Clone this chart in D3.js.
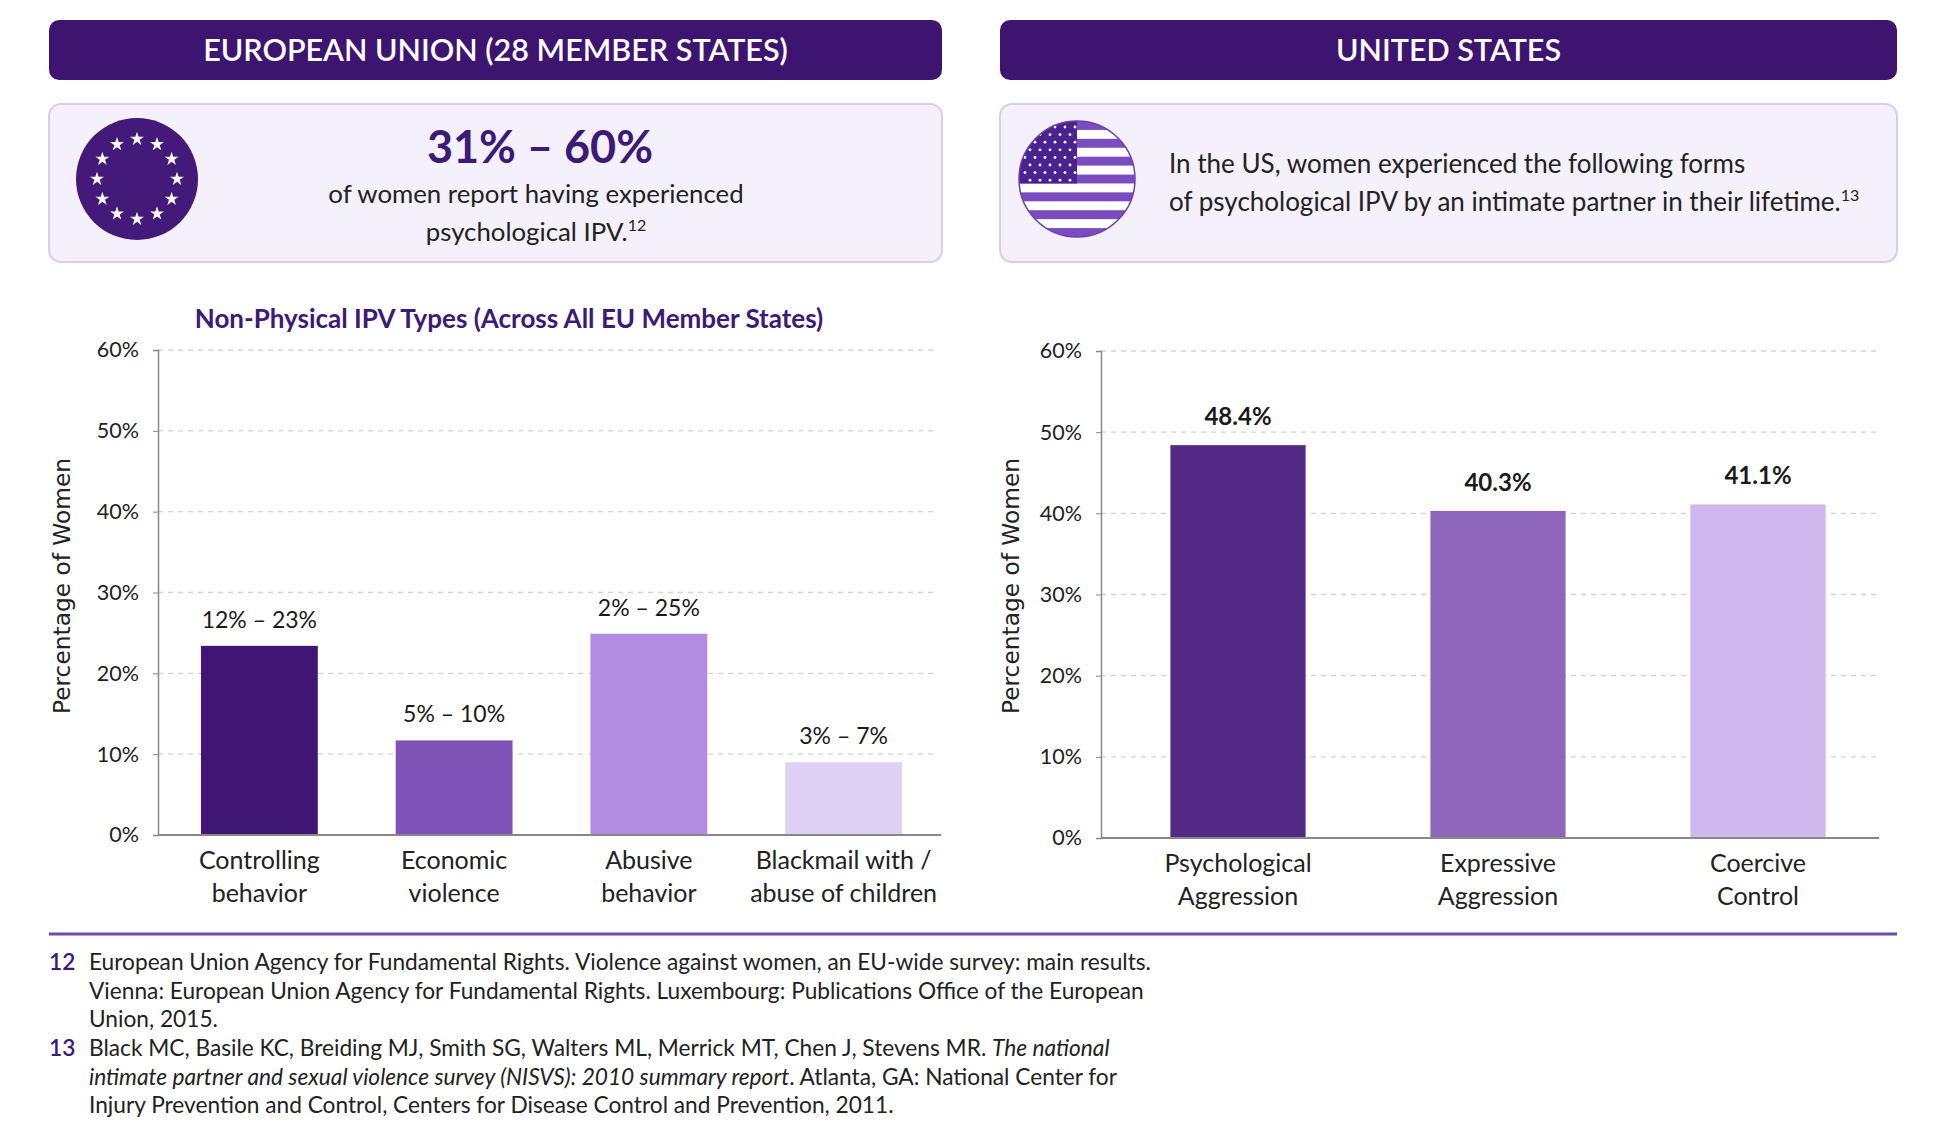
<!DOCTYPE html>
<html>
<head>
<meta charset="utf-8">
<script src="https://cdn.jsdelivr.net/npm/d3@7"></script>
<style>
  body { margin: 0; background: #fff; }
  svg { display: block; font-family: Lato, "Open Sans", sans-serif; }
  .tick text { font-family: Lato, sans-serif; }
</style>
</head>
<body>
<svg id="chart" width="1936" height="1148"></svg>
<script>
// chart data
const yTicks = [0, 10, 20, 30, 40, 50, 60];

const euCategories = [["Controlling", "behavior"], ["Economic", "violence"], ["Abusive", "behavior"], ["Blackmail with /", "abuse of children"]];
const euValues = [23.4, 11.7, 24.9, 9.0];
const euLabels = ["12% – 23%", "5% – 10%", "2% – 25%", "3% – 7%"];

const usCategories = [["Psychological", "Aggression"], ["Expressive", "Aggression"], ["Coercive", "Control"]];
const usValues = [48.4, 40.3, 41.1];
const usLabels = ["48.4%", "40.3%", "41.1%"];

const euColors = ["#3f1674", "#7f52b7", "#b28ce0", "#dfd1f5"];
const usColors = ["#532a85", "#8e67bd", "#cfb8ee"];
const purple = "#3d1470";

const svg = d3.select("#chart");

// --- headers
function header(x, w, label) {
  svg.append("rect").attr("x", x).attr("y", 20).attr("width", w).attr("height", 60)
    .attr("rx", 10).attr("fill", purple);
  svg.append("text").attr("x", x + w / 2).attr("y", 61).attr("text-anchor", "middle")
    .attr("fill", "#fff").attr("font-size", 30.5).attr("font-weight", 600).text(label);
}
header(49, 893, "EUROPEAN UNION (28 MEMBER STATES)");
header(1000, 897, "UNITED STATES");

// --- info boxes
function infoBox(x, w) {
  svg.append("rect").attr("x", x).attr("y", 104).attr("width", w).attr("height", 158)
    .attr("rx", 12).attr("fill", "#f4f0fc").attr("stroke", "#d9ccf3").attr("stroke-width", 2);
}
infoBox(49, 893);
infoBox(1000, 897);

// EU flag
svg.append("circle").attr("cx", 137).attr("cy", 179).attr("r", 61).attr("fill", "#43197a");
const star = d3.symbol().type(d3.symbolStar).size(60);
d3.range(12).forEach(i => {
  const a = i / 12 * 2 * Math.PI;
  svg.append("path").attr("d", star)
    .attr("transform", `translate(${137 + 40 * Math.sin(a)},${179 - 40 * Math.cos(a)})`)
    .attr("fill", "#fff");
});

svg.append("text").attr("x", 540).attr("y", 163).attr("text-anchor", "middle")
  .attr("fill", "#3b1a78").attr("font-size", 45).attr("font-weight", 700).text("31% – 60%");
svg.append("text").attr("x", 536).attr("y", 203).attr("text-anchor", "middle")
  .attr("fill", "#222").attr("font-size", 25.8).text("of women report having experienced");
const ipv = svg.append("text").attr("x", 536).attr("y", 241).attr("text-anchor", "middle")
  .attr("fill", "#222").attr("font-size", 25.8);
ipv.append("tspan").text("psychological IPV.");
ipv.append("tspan").attr("dy", -10).attr("font-size", 16).text("12");

// US flag
const fx = 1077, fy = 179, fr = 58;
const clip = svg.append("clipPath").attr("id", "flagclip");
clip.append("circle").attr("cx", fx).attr("cy", fy).attr("r", fr);
const flag = svg.append("g").attr("clip-path", "url(#flagclip)");
flag.append("rect").attr("x", fx - fr).attr("y", fy - fr).attr("width", fr * 2).attr("height", fr * 2).attr("fill", "#fff");
const sh = fr * 2 / 13;
d3.range(13).filter(i => i % 2 === 0).forEach(i => {
  flag.append("rect").attr("x", fx - fr).attr("y", fy - fr + i * sh).attr("width", fr * 2).attr("height", sh)
    .attr("fill", "#7b4cc0");
});
flag.append("rect").attr("x", fx - fr).attr("y", fy - fr).attr("width", fr).attr("height", sh * 7).attr("fill", "#4a2390");
for (let r = 0; r < 9; r++) {
  const n = r % 2 === 0 ? 6 : 5;
  for (let c = 0; c < n; c++) {
    flag.append("circle")
      .attr("cx", fx - fr + 6 + c * 10 + (r % 2 ? 5 : 0))
      .attr("cy", fy - fr + 6 + r * 7.6)
      .attr("r", 1.4).attr("fill", "#fff");
  }
}
svg.append("circle").attr("cx", fx).attr("cy", fy).attr("r", fr).attr("fill", "none")
  .attr("stroke", "#6a3fb0").attr("stroke-width", 1.5);

const usText = svg.append("text").attr("fill", "#222").attr("font-size", 26);
usText.append("tspan").attr("x", 1169).attr("y", 173).text("In the US, women experienced the following forms");
usText.append("tspan").attr("x", 1169).attr("y", 211).text("of psychological IPV by an intimate partner in their lifetime.");
usText.append("tspan").attr("dy", -10).attr("font-size", 16).text("13");

// --- bar chart helper
function barChart(opt) {
  const x = d3.scaleBand().domain(opt.categories.map((d, i) => i))
    .range(opt.band).paddingInner(opt.pi).paddingOuter(opt.po);
  const y = d3.scaleLinear().domain([0, 60]).range([opt.y0, opt.y1]);
  const g = svg.append("g");

  // grid
  g.selectAll(".grid").data(yTicks.filter(t => t > 0)).enter().append("line")
    .attr("x1", opt.x0).attr("x2", opt.gridEnd)
    .attr("y1", d => y(d)).attr("y2", d => y(d))
    .attr("stroke", "#d4d4d4").attr("stroke-width", 1.3).attr("stroke-dasharray", "5,5");

  // y axis
  const ya = g.append("g").attr("transform", `translate(${opt.x0},0)`)
    .call(d3.axisLeft(y).tickValues(yTicks).tickFormat(d => d + "%").tickSize(5).tickPadding(14));
  ya.select(".domain").attr("stroke", "#888").attr("stroke-width", 1.5);
  ya.selectAll(".tick line").attr("stroke", "#888");
  ya.selectAll(".tick text").attr("font-size", 21.5).attr("fill", "#222");

  // bars
  g.selectAll(".bar").data(opt.values).enter().append("rect")
    .attr("x", (d, i) => x(i)).attr("width", x.bandwidth())
    .attr("y", d => y(d)).attr("height", d => y(0) - y(d))
    .attr("fill", (d, i) => opt.colors[i]);

  // x axis line
  g.append("line").attr("x1", opt.x0).attr("x2", opt.x1)
    .attr("y1", y(0)).attr("y2", y(0)).attr("stroke", "#888").attr("stroke-width", 2);

  // value labels
  g.selectAll(".val").data(opt.values).enter().append("text")
    .attr("x", (d, i) => x(i) + x.bandwidth() / 2).attr("y", d => y(d) - opt.labelGap)
    .attr("text-anchor", "middle").attr("font-size", opt.labelSize)
    .attr("font-weight", opt.labelWeight).attr("fill", "#1a1a1a")
    .text((d, i) => opt.labels[i]);

  // category labels
  opt.categories.forEach((lines, i) => {
    const t = g.append("text").attr("text-anchor", "middle").attr("font-size", 25).attr("fill", "#222");
    lines.forEach((l, j) => {
      t.append("tspan").attr("x", x(i) + x.bandwidth() / 2).attr("y", opt.catY + j * 33).text(l);
    });
  });

  // y title
  g.append("text").attr("transform", `translate(${opt.titleX},586) rotate(-90)`)
    .attr("text-anchor", "middle").attr("font-family", "'DejaVu Sans', sans-serif")
    .attr("font-size", 23.3).attr("fill", "#222").text("Percentage of Women");
}

svg.append("text").attr("x", 509).attr("y", 328).attr("text-anchor", "middle")
  .attr("fill", "#3b1a78").attr("font-size", 26).attr("font-weight", 700)
  .text("Non-Physical IPV Types (Across All EU Member States)");

barChart({
  categories: euCategories, values: euValues, labels: euLabels, colors: euColors,
  x0: 158, x1: 941, band: [162, 941], gridEnd: 935, pi: 0.4, po: 0.2, y0: 835, y1: 350,
  labelGap: 18, labelSize: 23, labelWeight: 400, catY: 869, titleX: 70
});

barChart({
  categories: usCategories, values: usValues, labels: usLabels, colors: usColors,
  x0: 1101, x1: 1879, band: [1108, 1888], gridEnd: 1877, pi: 0.48, po: 0.24, y0: 838, y1: 351,
  labelGap: 20, labelSize: 24, labelWeight: 700, catY: 872, titleX: 1019
});

// --- separator & footnotes
svg.append("line").attr("x1", 49).attr("x2", 1897).attr("y1", 934).attr("y2", 934)
  .attr("stroke", "#6a4bb0").attr("stroke-width", 3);

const notes = [
  { num: "12", y: 970, lines: [
    [["European Union Agency for Fundamental Rights. Violence against women, an EU-wide survey: main results.", false]],
    [["Vienna: European Union Agency for Fundamental Rights. Luxembourg: Publications Office of the European", false]],
    [["Union, 2015.", false]]
  ]},
  { num: "13", y: 1056, lines: [
    [["Black MC, Basile KC, Breiding MJ, Smith SG, Walters ML, Merrick MT, Chen J, Stevens MR. ", false], ["The national", true]],
    [["intimate partner and sexual violence survey (NISVS): 2010 summary report", true], [". Atlanta, GA: National Center for", false]],
    [["Injury Prevention and Control, Centers for Disease Control and Prevention, 2011.", false]]
  ]}
];
notes.forEach(n => {
  svg.append("text").attr("x", 49).attr("y", n.y).attr("font-size", 22.7).attr("font-weight", 600)
    .attr("fill", "#3b1a78").text(n.num);
  n.lines.forEach((parts, j) => {
    const t = svg.append("text").attr("x", 89).attr("y", n.y + j * 28.5).attr("font-size", 22.7).attr("fill", "#222");
    parts.forEach(p => t.append("tspan").attr("font-style", p[1] ? "italic" : null).text(p[0]));
  });
});
</script>
</body>
</html>
